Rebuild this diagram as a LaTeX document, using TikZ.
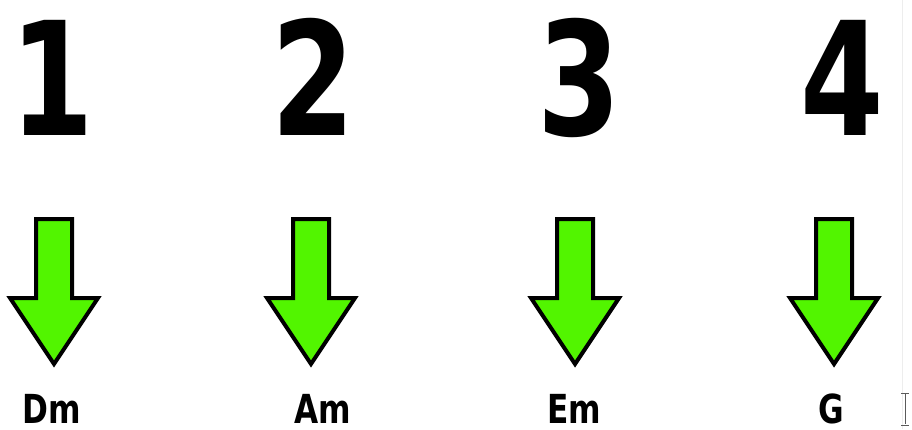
\documentclass[tikz,border=0pt]{standalone}
\usepackage{fontspec}
\usetikzlibrary{calc}
\setmainfont{DejaVu Sans}
\definecolor{arrowgreen}{RGB}{82,245,0}
\definecolor{cursorgray}{RGB}{90,90,90}
\begin{document}
\begin{tikzpicture}[x=1pt,y=-1pt,
  numtxt/.style={anchor=base,inner sep=0pt,xscale=0.76,font=\bfseries\fontsize{158}{158}\selectfont},
  chordtxt/.style={anchor=base,inner sep=0pt,xscale=0.78,font=\bfseries\fontsize{40}{40}\selectfont},
  greenarrow/.style={draw=black,fill=arrowgreen,line width=4pt,line join=miter}]
\useasboundingbox (0,0) rectangle (912,429);
\fill[white] (0,0) rectangle (912,429);
% faint vertical edge line
\draw[black!7,line width=1pt] (902,0) -- (902,429);
% numbers
\node[numtxt] (n1) at (52,135) {1};
\node[numtxt] (n2) at (313,135) {2};
\node[numtxt] (n3) at (579,135) {3};
\node[numtxt] (n4) at (842,135) {4};
% arrows
\foreach \name/\cx in {a1/54,a2/311,a3/575,a4/834}{
  \draw[greenarrow] (\cx-18,219) -- (\cx+18,219) -- (\cx+18,298) -- (\cx+44,298)
    -- (\cx,364) -- (\cx-44,298) -- (\cx-18,298) -- cycle;
  \coordinate (\name) at (\cx,300);
}
% chord labels
\node[chordtxt] (c1) at (52,423) {Dm};
\node[chordtxt] (c2) at (323,423) {Am};
\node[chordtxt] (c3) at (574,423) {Em};
\node[chordtxt] (c4) at (831,423) {G};
% text cursor (I-beam)
\coordinate (ib) at (905,409);
\draw[cursorgray,line width=1pt] ($(ib)+(0,-15)$) -- ($(ib)+(0,15)$);
\draw[cursorgray,line width=1pt] ($(ib)+(-4,-16)$) -- ($(ib)+(4,-16)$);
\draw[cursorgray,line width=1pt] ($(ib)+(-4,16)$) -- ($(ib)+(4,16)$);
\end{tikzpicture}
\end{document}
